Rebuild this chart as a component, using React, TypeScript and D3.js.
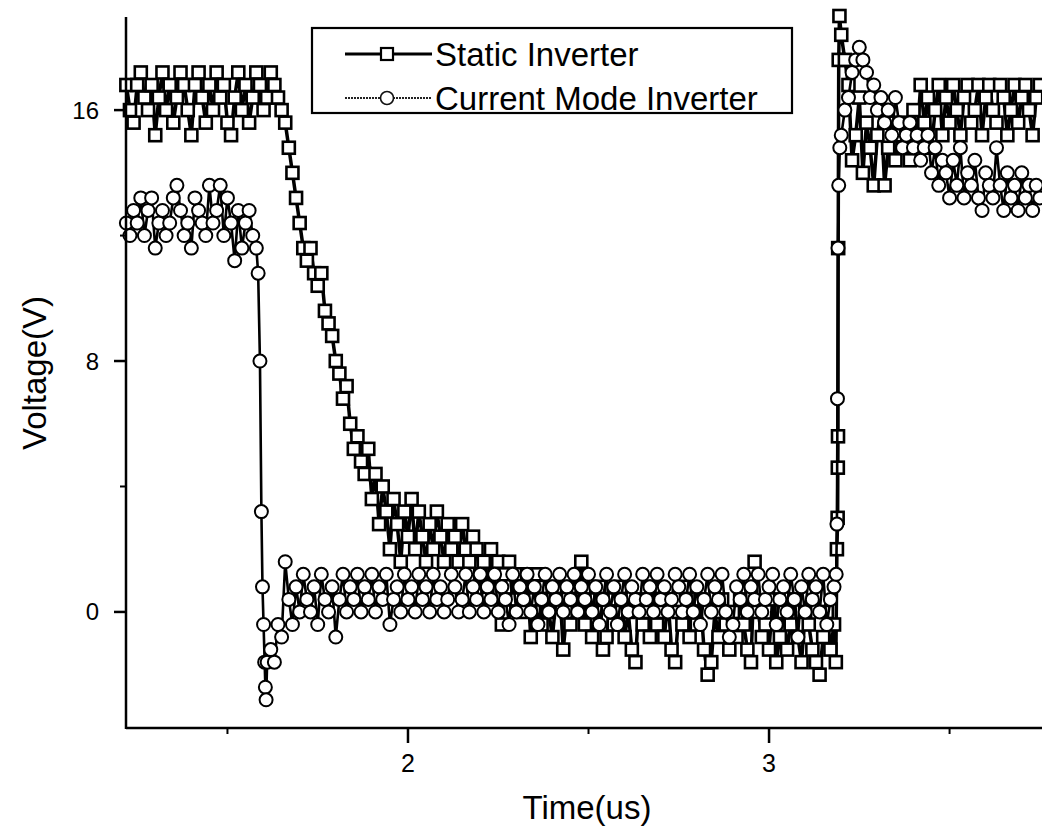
import React from "react";
import * as d3 from "d3";

// sampling step of the scope traces (us)
const STEP = 0.01;

// ---- Static Inverter (squares) ----
const staticHighStart = 1.22;
const staticHigh = [
  16.8, 16.0, 15.6, 16.8, 17.2, 16.4, 16.0, 16.8, 15.2, 16.4, 17.2, 16.0, 16.8, 15.6, 16.4,
  17.2, 16.8, 16.0, 15.2, 16.8, 17.2, 16.4, 15.6, 16.8, 16.0, 17.2, 16.4, 16.8, 15.6, 15.2,
  16.4, 17.2, 16.0, 16.8, 15.6, 16.4, 17.2, 16.8, 16.0, 16.4, 17.2, 16.8, 16.4, 16.0,
];
const staticFallStart = 1.66;
const staticFall = [
  15.6, 14.8, 14.0, 13.2, 12.4, 11.6, 11.2, 11.6, 10.8, 10.4, 10.8, 9.6, 9.2, 8.8, 8.0,
  7.6, 6.8, 7.2, 6.0, 5.2, 5.6, 4.8, 4.4, 5.2, 3.6, 4.4, 2.8, 4.0, 3.2, 2.0,
  3.6, 2.8, 1.6, 3.2, 2.4, 3.6, 2.0, 3.2, 2.4, 1.6, 2.8, 2.0, 3.2, 2.4, 1.6,
  2.8, 2.0, 2.4, 1.6, 2.8, 2.0, 1.6, 2.4, 2.0, 1.2, 1.6, 0.8, 2.0, 1.2, 1.6,
  -0.4, 1.2, 1.6, 0.4, 1.2,
];
const staticLowStart = 2.31;
const staticLow = [
  0.8, 0.0, 1.2, -0.8, 0.4, 1.2, -0.4, 0.8, 0.0, -0.8, 0.4, 0.8, -1.2, 0.0, -0.4,
  0.8, 0.0, 1.6, -0.4, 0.4, -0.8, 0.0, 0.8, -1.2, -0.8, 0.4, -0.4, 0.0, 0.8, -0.8,
  0.0, -1.2, -1.6, 0.4, -0.4, 0.0, -0.8, 0.8, -0.4, 0.0, -0.8, 0.4, -1.2, -1.6, 0.0,
  -0.4, 0.8, -0.8, 0.0, -0.4, 0.4, -1.2, -2.0, -1.6, 0.0, -0.8, 0.4, -0.4, -1.2, 0.0,
  -0.8, 0.4, -0.4, -1.2, -1.6, 1.6, 0.0, -0.8, -0.4, -1.2, 0.4, -1.6, -0.8, 0.0, -1.2,
  -0.4, 0.4, -0.8, -1.6, 0.0, -0.4, -1.2, -1.6, -2.0, -0.8, 0.0, -1.2, -0.4,
];
const staticRiseT = [3.185, 3.188, 3.19, 3.1905, 3.191, 3.1915, 3.193, 3.195];
const staticRiseV = [-1.6, 2.0, 3.0, 4.6, 5.6, 11.6, 17.6, 19.0];
const staticAfterStart = 3.2;
const staticAfter = [
  18.4, 17.6, 16.8, 14.4, 15.2, 16.4, 14.0, 15.6, 14.8, 13.6, 15.2, 16.0, 13.6, 14.8, 15.6,
  14.4, 15.2, 14.8, 15.6, 14.4, 16.0, 15.2, 16.8, 15.6, 16.4, 14.8, 16.0, 16.8, 15.2, 16.4,
  15.6, 16.8, 16.0, 15.2, 16.4, 16.8, 15.6, 16.0, 16.8, 15.2, 16.4, 16.8, 16.0, 15.6, 16.8,
  16.4, 15.2, 16.0, 16.8, 15.6, 16.4, 16.8, 16.0, 15.2, 16.4, 16.8,
];

// ---- Current Mode Inverter (circles) ----
const cmHighStart = 1.22;
const cmHigh = [
  12.4, 12.0, 12.8, 12.4, 13.2, 12.0, 12.8, 13.2, 11.6, 12.4, 12.8, 12.0, 12.4, 13.2, 13.6,
  12.8, 12.0, 12.4, 11.6, 13.2, 12.8, 12.4, 12.0, 13.6, 12.4, 12.8, 13.6, 12.0, 13.2, 12.4,
  11.2, 12.8, 11.6, 12.4, 12.8, 12.0, 11.6,
];
const cmFallT = [1.585, 1.59, 1.594, 1.597, 1.6, 1.603, 1.605, 1.607];
const cmFallV = [10.8, 8.0, 3.2, 0.8, -0.4, -1.6, -2.4, -2.8];
const cmLowStart = 1.61;
const cmLow = [
  -1.6, -1.2, -1.6, -0.4, -0.8, 1.6, 0.4, -0.4, 0.8, 0.0, 1.2, 0.4, 0.0, 0.8, -0.4,
  1.2, 0.4, 0.0, 0.8, -0.8, 0.4, 1.2, 0.0, 0.8, 0.4, 1.2, 0.0, 0.8, 0.4, 1.2,
  0.0, 0.8, 0.4, 1.2, -0.4, 0.4, 0.8, 0.0, 1.2, 0.4, 0.8, 0.0, 1.2, 0.4, 0.8,
  0.0, 1.2, 0.4, 0.8, 0.0, 0.4, 1.2, 0.8, 0.0, 0.4, 1.2, 0.0, 0.8, 0.4, 1.2,
  0.0, 0.8, 0.4, 1.2, 0.0, 0.8, 0.4, -0.4, 1.2, 0.0, 0.8, 0.4, 1.2, 0.0, 0.8,
  -0.4, 0.4, 1.2, 0.0, 0.8, 0.4, 1.2, 0.0, 0.8, 0.4, 1.2, 0.0, 0.8, 0.4, 1.2,
  0.0, 0.8, -0.4, 0.4, 1.2, 0.0, 0.8, -0.4, 0.4, 1.2, 0.0, 0.8, 0.4, 0.0, 1.2,
  0.4, 0.8, 0.0, 1.2, 0.4, 0.8, 0.0, 0.4, 1.2, 0.8, 0.0, 0.4, 1.2, 0.0, 0.8,
  -0.4, 0.4, 1.2, 0.0, 0.8, 0.4, 1.2, 0.0, -0.8, -0.4, 0.8, 0.4, 1.2, 0.0, 0.8,
  0.4, 1.2, 0.0, 0.4, 0.8, 1.2, -0.4, 0.4, 0.8, 0.0, 1.2, 0.4, -0.8, 0.8, 0.0,
  1.2, 0.4, 0.8, 0.0, 1.2, -0.4, 0.4, 0.8,
];
const cmRiseT = [3.186, 3.188, 3.1895, 3.191, 3.193, 3.196];
const cmRiseV = [1.2, 2.8, 6.8, 11.6, 13.6, 14.8];
const cmAfterStart = 3.2;
const cmAfter = [
  15.2, 16.0, 16.4, 17.2, 17.6, 18.0, 17.6, 17.2, 16.4, 16.8, 16.0, 16.4, 15.6, 16.0, 15.2,
  16.4, 15.6, 14.8, 15.2, 15.6, 14.8, 15.2, 14.4, 14.8, 15.2, 14.0, 14.8, 13.6, 14.4, 14.0,
  13.2, 14.4, 13.6, 14.8, 13.2, 14.0, 13.6, 14.4, 13.2, 12.8, 14.0, 13.6, 13.2, 14.8, 13.6,
  12.8, 14.0, 13.2, 13.6, 12.8, 14.0, 13.2, 13.6, 12.8, 13.6, 13.2,
];

// axis ticks
const xMajor = [2, 3];
const xMinor = [1.5, 2.5, 3.5];
const yMajor = [0, 8, 16];
const yMinor = [4, 12];

const FONT = "'Liberation Sans', Arial, Helvetica, sans-serif";

type Pt = { t: number; v: number };

function seg(start: number, vals: number[]): Pt[] {
  return vals.map((v, i) => ({ t: +(start + i * STEP).toFixed(4), v }));
}
function pairs(ts: number[], vs: number[]): Pt[] {
  return ts.map((t, i) => ({ t, v: vs[i] }));
}

const staticData: Pt[] = [
  ...seg(staticHighStart, staticHigh),
  ...seg(staticFallStart, staticFall),
  ...seg(staticLowStart, staticLow),
  ...pairs(staticRiseT, staticRiseV),
  ...seg(staticAfterStart, staticAfter),
].sort((a, b) => a.t - b.t);

const cmData: Pt[] = [
  ...seg(cmHighStart, cmHigh),
  ...pairs(cmFallT, cmFallV),
  ...seg(cmLowStart, cmLow),
  ...pairs(cmRiseT, cmRiseV),
  ...seg(cmAfterStart, cmAfter),
].sort((a, b) => a.t - b.t);

export default function App() {
  const width = 1042;
  const height = 840;
  const left = 126;
  const bottom = 728;

  const x = d3.scaleLinear().domain([1.219, 3.756]).range([left, width]);
  const y = d3.scaleLinear().domain([-3.7, 19]).range([bottom, 16]);

  const line = d3
    .line<Pt>()
    .x((d) => x(d.t))
    .y((d) => y(d.v));

  const sq = 12;
  const cr = 6.5;

  return (
    <svg
      width={width}
      height={height}
      style={{ position: "absolute", left: 0, top: 0, background: "#fff" }}
      fontFamily={FONT}
    >
      <rect x={0} y={0} width={width} height={height} fill="#fff" />

      {/* static inverter */}
      <path d={line(staticData) || ""} fill="none" stroke="#000" strokeWidth={3.5} />
      {staticData.map((d, i) => (
        <rect
          key={"s" + i}
          x={x(d.t) - sq / 2}
          y={y(d.v) - sq / 2}
          width={sq}
          height={sq}
          fill="#fff"
          stroke="#000"
          strokeWidth={2.6}
        />
      ))}

      {/* current mode inverter */}
      <path d={line(cmData) || ""} fill="none" stroke="#000" strokeWidth={2.6} />
      {cmData.map((d, i) => (
        <circle
          key={"c" + i}
          cx={x(d.t)}
          cy={y(d.v)}
          r={cr}
          fill="#fff"
          stroke="#000"
          strokeWidth={2}
        />
      ))}

      {/* axes */}
      <line x1={left} x2={left} y1={17} y2={bottom + 1} stroke="#000" strokeWidth={2.5} />
      <line x1={left} x2={width} y1={bottom} y2={bottom} stroke="#000" strokeWidth={2.5} />
      {xMajor.map((t) => (
        <g key={"xm" + t}>
          <line x1={x(t)} x2={x(t)} y1={bottom} y2={bottom + 15} stroke="#000" strokeWidth={2.5} />
          <text x={x(t)} y={772} textAnchor="middle" fontSize={25}>
            {t}
          </text>
        </g>
      ))}
      {xMinor.map((t) => (
        <line key={"xn" + t} x1={x(t)} x2={x(t)} y1={bottom} y2={bottom + 6} stroke="#000" strokeWidth={2} />
      ))}
      {yMajor.map((v) => (
        <g key={"ym" + v}>
          <line x1={left - 12} x2={left} y1={y(v)} y2={y(v)} stroke="#000" strokeWidth={2.5} />
          <text x={99} y={y(v)} textAnchor="end" dominantBaseline="central" fontSize={24}>
            {v}
          </text>
        </g>
      ))}
      {yMinor.map((v) => (
        <line key={"yn" + v} x1={left - 6} x2={left} y1={y(v)} y2={y(v)} stroke="#000" strokeWidth={2} />
      ))}

      {/* axis titles */}
      <text x={587} y={819} textAnchor="middle" fontSize={33}>
        Time(us)
      </text>
      <text transform="translate(46,373) rotate(-90)" textAnchor="middle" fontSize={33}>
        Voltage(V)
      </text>

      {/* legend */}
      <rect x={312} y={28} width={480} height={85} fill="#fff" stroke="#000" strokeWidth={2.2} />
      <line x1={345} x2={432} y1={54} y2={54} stroke="#000" strokeWidth={3} />
      <rect x={387 - sq / 2} y={54 - sq / 2} width={sq} height={sq} fill="#fff" stroke="#000" strokeWidth={2.2} />
      <text x={435} y={54} dominantBaseline="central" fontSize={33}>
        Static Inverter
      </text>
      <line x1={345} x2={432} y1={98} y2={98} stroke="#222" strokeWidth={2.2} strokeDasharray="2 1" />
      <circle cx={387} cy={98} r={cr} fill="#fff" stroke="#111" strokeWidth={1.6} />
      <text x={435} y={98} dominantBaseline="central" fontSize={33}>
        Current Mode Inverter
      </text>
    </svg>
  );
}
